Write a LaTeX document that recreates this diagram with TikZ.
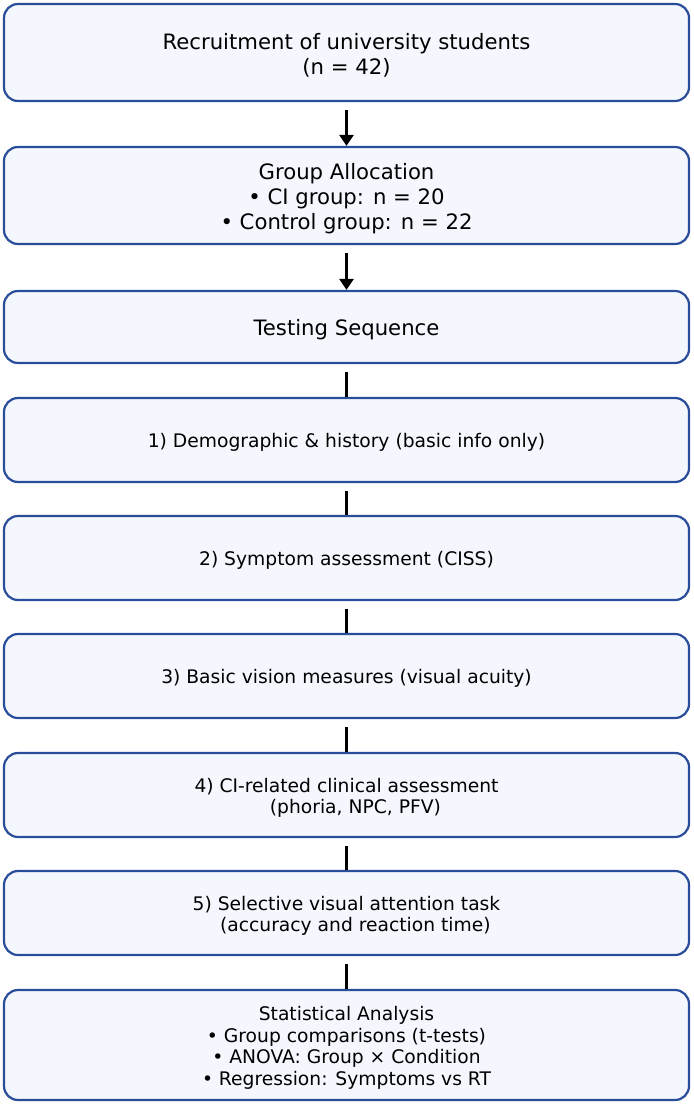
\documentclass[tikz,border=0pt]{standalone}
\usepackage{fontspec}
\setmainfont{DejaVu Sans}
\usetikzlibrary{arrows.meta}
\definecolor{boxedge}{HTML}{2A4D9B}
\definecolor{boxfill}{HTML}{F4F7FD}
\newcommand{\padbig}{\rule{0pt}{22pt}}
\newcommand{\padsmall}{\rule{0pt}{19.5pt}}

\begin{document}
\begin{tikzpicture}[x=1pt,y=1pt,
  stage/.style={draw=boxedge,fill=boxfill,line width=2.2pt,rounded corners=14pt,
    minimum width=685pt,inner sep=0pt,align=center},
  bigtext/.style={font=\fontsize{21.2}{25}\selectfont},
  smalltext/.style={font=\fontsize{18.7}{21.5}\selectfont},
  link/.style={line width=3pt},
  flow/.style={link,-{Triangle[length=11pt,width=14pt]}}]
\useasboundingbox (0,0) rectangle (693,-1105);

% top part
\node[stage,bigtext,minimum height=97pt] (recruit) at (346.5,-52.5)
  {\padbig Recruitment of university students\\(n = 42)};
\node[stage,bigtext,minimum height=97pt] (alloc) at (346.5,-195.5)
  {\padbig Group Allocation\\• CI group: n = 20\\• Control group: n = 22};
\node[stage,bigtext,minimum height=72pt] (seq) at (346.5,-327)
  {\padbig Testing Sequence};

% testing steps
\node[stage,smalltext,minimum height=84pt] (demo) at (346.5,-440)
  {\padsmall 1) Demographic \& history (basic info only)};
\node[stage,smalltext,minimum height=84pt] (ciss) at (346.5,-558)
  {\padsmall 2) Symptom assessment (CISS)};
\node[stage,smalltext,minimum height=84pt] (vision) at (346.5,-676)
  {\padsmall 3) Basic vision measures (visual acuity)};
\node[stage,smalltext,minimum height=84pt] (clinic) at (346.5,-795)
  {\padsmall 4) CI-related clinical assessment\\\hspace*{0.95em}(phoria, NPC, PFV)};
\node[stage,smalltext,minimum height=84pt] (attn) at (346.5,-913)
  {\padsmall 5) Selective visual attention task\\\hspace*{0.95em}(accuracy and reaction time)};

\node[stage,smalltext,minimum height=110pt] (stats) at (346.5,-1045)
  {\padsmall Statistical Analysis\\• Group comparisons (t-tests)\\• ANOVA: Group × Condition\\• Regression: Symptoms vs RT};

% connectors
\draw[flow] ([yshift=-8pt]recruit.south) -- (alloc.north);
\draw[flow] ([yshift=-8pt]alloc.south) -- (seq.north);
\draw[link] ([yshift=-8pt]seq.south) -- (demo.north);
\draw[link] ([yshift=-8pt]demo.south) -- (ciss.north);
\draw[link] ([yshift=-8pt]ciss.south) -- (vision.north);
\draw[link] ([yshift=-8pt]vision.south) -- (clinic.north);
\draw[link] ([yshift=-8pt]clinic.south) -- (attn.north);
\draw[link] ([yshift=-8pt]attn.south) -- (stats.north);
\end{tikzpicture}
\end{document}
